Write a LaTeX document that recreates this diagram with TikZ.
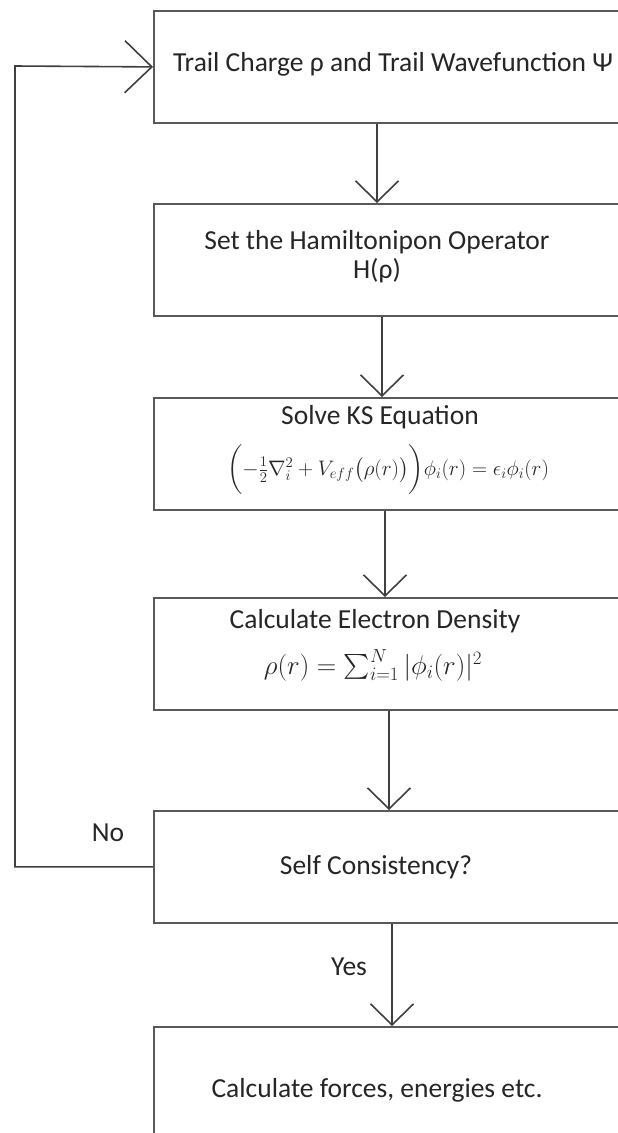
\RequirePackage{fix-cm}
\documentclass[tikz,border=0pt]{standalone}
\usepackage{amsmath}
\usepackage{fontspec}
\setmainfont{Carlito}
\usepackage{tikz}
\usetikzlibrary{arrows.meta}

\begin{document}
\begin{tikzpicture}[x=1pt,y=-1pt,
  box/.style={draw=black!65,line width=1.8pt,anchor=north west,minimum width=520pt,minimum height=112pt,inner sep=0pt},
  txt/.style={font=\fontsize{27.5}{29}\selectfont,align=center,text=black!85,inner sep=0pt},
  eqn/.style={text=black!85,inner sep=0pt},
  arr/.style={draw=black!75,line width=1.6pt,-{Straight Barb[length=21pt,width=43pt]}}]

% Frame
\useasboundingbox (0,0) rectangle (618,1133);
\fill[white] (0,0) rectangle (618,1133);
\clip (0,0) rectangle (618,1133);

% Boxes
\node[box] (b1) at (153,10) {};
\node[box] (b2) at (153,203) {};
\node[box] (b3) at (153,397) {};
\node[box] (b4) at (153,597) {};
\node[box] (b5) at (153,810) {};
\node[box] (b6) at (153,1026) {};

% Box texts
\node[txt] (t1) at (393,64) {Trail Charge ρ and Trail Wavefunction Ψ};
\node[txt] (t2) at (377,257) {Set the Hamiltonipon Operator\\H(ρ)};
\node[txt] (t3) at (380,417) {Solve KS Equation};
\node[eqn,font=\fontsize{21}{25}\selectfont] (ks) at (388,470)
  {$\biggl(-\frac{1}{2}\nabla_i^2+V_{eff}\bigl(\rho(r)\bigr)\biggr)\phi_i(r)=\epsilon_i\phi_i(r)$};
\node[txt] (t4) at (375,621) {Calculate Electron Density};
\node[eqn,font=\fontsize{27}{31}\selectfont] (dens) at (373,665)
  {$\rho(r)=\sum_{i=1}^{N}|\phi_i(r)|^2$};
\node[txt] (t5) at (376,867) {Self Consistency?};
\node[txt] (t6) at (377,1090) {Calculate forces, energies etc.};

% Branch labels
\node[txt] (no) at (108,833) {No};
\node[txt] (yes) at (349,967) {Yes};

% Arrows
\foreach \a/\b/\x in {b1/b2/377, b2/b3/382, b3/b4/385, b4/b5/389, b5/b6/392}
  \draw[arr] ([xshift=\x-153]\a.south west) -- ([xshift=\x-153]\b.north west);

% Loop back
\coordinate (loop) at (15,66);
\draw[arr,-{Straight Barb[length=27pt,width=52pt]}] (b5.west) -| (loop) -- (b1.west);

\end{tikzpicture}
\end{document}
